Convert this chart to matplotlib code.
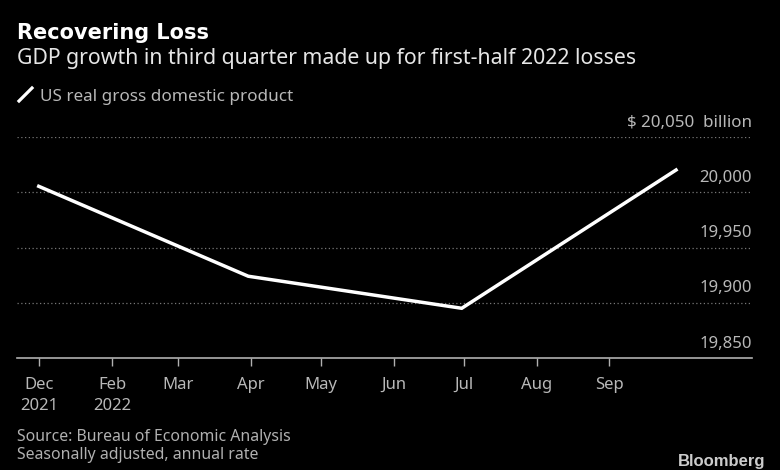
import matplotlib
matplotlib.use("Agg")
import matplotlib.pyplot as plt
import matplotlib.dates as mdates
from matplotlib.lines import Line2D
from datetime import date

W, H = 780, 470
dates = [date(2021, 12, 31), date(2022, 3, 31), date(2022, 6, 30), date(2022, 9, 30)]
gdp = [20006, 19924, 19895, 20021]
tick_dates = [date(2022, m, 1) for m in range(1, 10)]
tick_labels = ["Dec\n2021", "Feb\n2022", "Mar", "Apr", "May", "Jun", "Jul", "Aug", "Sep"]
y_ticks = [19850, 19900, 19950, 20000, 20050]
y_labels = ["19,850", "19,900", "19,950", "20,000"]

FONT = "Noto Sans"
plt.rcParams["font.family"] = FONT
fig = plt.figure(figsize=(W / 100, H / 100), dpi=100, facecolor="black")
L, R, T, B = 17, 752, 137, 358
ax = fig.add_axes([L / W, 1 - B / H, (R - L) / W, (B - T) / H], facecolor="black")

px_per_day = (609.5 - 39.5) / (date(2022, 9, 1) - date(2022, 1, 1)).days
x0 = mdates.date2num(date(2022, 1, 1))
ax.set_xlim(x0 - (39.5 - L) / px_per_day, x0 + (R - 39.5) / px_per_day)
ax.set_ylim(19850, 20050)

for y in y_ticks[1:]:
    ax.axhline(y, color="#777777", lw=0.9, ls=(0, (1, 2)), zorder=1)
ax.plot(dates, gdp, color="white", lw=2.5, solid_capstyle="butt", solid_joinstyle="miter", zorder=3)

for s in ["top", "left", "right"]:
    ax.spines[s].set_visible(False)
ax.spines["bottom"].set_color("#b0b0b0")
ax.spines["bottom"].set_linewidth(1.2)
ax.set_xticks([mdates.date2num(d) for d in tick_dates])
ax.set_xticklabels(tick_labels, fontsize=12, color="#b8b8b8", linespacing=1.42)
ax.tick_params(axis="x", length=6, width=1, color="#b0b0b0", pad=7.5)
ax.set_yticks([])

for y, lab in zip(y_ticks, y_labels):
    ax.annotate(lab, (1, y), xycoords=("axes fraction", "data"), xytext=(0, 4.5),
                textcoords="offset points", ha="right", va="bottom", fontsize=12, color="#b8b8b8")
ax.annotate("$ 20,050  billion", (1, 20050), xycoords=("axes fraction", "data"), xytext=(0, 4.5),
            textcoords="offset points", ha="right", va="bottom", fontsize=12.2, color="#b8b8b8")

def t(x, y, s, **kw):
    fig.text(x / W, 1 - y / H, s, va="baseline", **kw)

t(17, 39, "Recovering Loss", fontsize=15.05, fontweight="bold", color="white", family="DejaVu Sans")
t(17, 64, "GDP growth in third quarter made up for first-half 2022 losses", fontsize=15.3, color="#e6e6e6")
t(40, 101, "US real gross domestic product", fontsize=12.3, color="#b8b8b8")
t(17, 441, "Source: Bureau of Economic Analysis", fontsize=11.4, color="#b0b0b0")
t(17, 459, "Seasonally adjusted, annual rate", fontsize=11.4, color="#b0b0b0")
t(678, 466, "Bloomberg", fontsize=12, fontweight="bold", color="#cccccc", family="Liberation Sans")

fig.add_artist(Line2D([19 / W, 32 / W], [1 - 101 / H, 1 - 88 / H], color="white", lw=2.3,
                      transform=fig.transFigure))
fig.savefig("out.png", dpi=100, facecolor="black")
